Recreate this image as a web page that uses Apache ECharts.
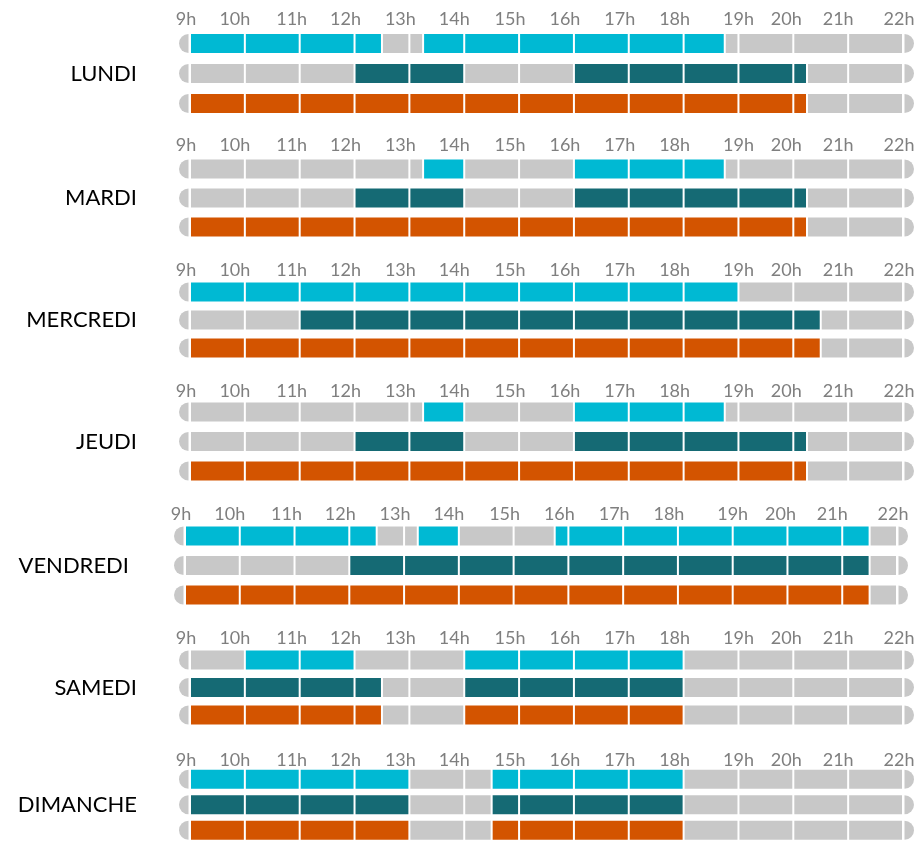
<!DOCTYPE html>
<html>
<head>
<meta charset="utf-8">
<script src="https://cdn.jsdelivr.net/npm/echarts@6/dist/echarts.min.js"></script>
<style>
html, body { margin: 0; padding: 0; background: #fff; }
#chart { width: 920px; height: 843px; }
</style>
</head>
<body>
<div id="chart"></div>
<script>
// jours et plages horaires (heures décimales)
const days = ['LUNDI', 'MARDI', 'MERCREDI', 'JEUDI', 'VENDREDI', 'SAMEDI', 'DIMANCHE'];
const hourLabels = ['9h', '10h', '11h', '12h', '13h', '14h', '15h', '16h', '17h', '18h', '19h', '20h', '21h', '22h'];
const hourMin = 9;
const hourMax = 22;
const rowNames = ['cyan', 'teal', 'orange'];

const cyanSegments = [
    [[9, 12.5], [13.25, 18.75]],
    [[13.25, 14], [16, 18.75]],
    [[9, 19]],
    [[13.25, 14], [16, 18.75]],
    [[9, 12.5], [13.25, 14], [15.75, 21.5]],
    [[10, 12], [14, 18]],
    [[9, 13], [14.5, 18]]
];
const tealSegments = [
    [[12, 14], [16, 20.25]],
    [[12, 14], [16, 20.25]],
    [[11, 20.5]],
    [[12, 14], [16, 20.25]],
    [[12, 21.5]],
    [[9, 12.5], [14, 18]],
    [[9, 13], [14.5, 18]]
];
const orangeSegments = [
    [[9, 20.25]],
    [[9, 20.25]],
    [[9, 20.5]],
    [[9, 20.25]],
    [[9, 21.5]],
    [[9, 12.5], [14, 18]],
    [[9, 13], [14.5, 18]]
];

const rowColors = ['#00B9D3', '#156A74', '#D35400'];
const emptyColor = '#C8C8C8';
const barH = 19;

// mise en page de chaque bloc: centre 1re ligne, pas entre lignes, marges, décalage des heures
const layout = [
    { c: 43.5, s: 30, left: 190, right: 17, lab: 24.5, gap: 53 },
    { c: 169, s: 29, left: 190, right: 17, lab: 24, gap: 53 },
    { c: 292, s: 28, left: 190, right: 17, lab: 22, gap: 53 },
    { c: 412, s: 29.5, left: 190, right: 17, lab: 21, gap: 53 },
    { c: 536, s: 29.5, left: 185, right: 23, lab: 22, gap: 56 },
    { c: 660, s: 27.5, left: 190, right: 17, lab: 22, gap: 53 },
    { c: 780, s: 27, left: 190, right: 17, lab: 20, gap: 53 }
];
const labelShift = [-4, -10, -8, -9, -9, -10, -9, -9, -9, -9, 0, -7, -10, -4];

function pieces(segs, row) {// découpe la ligne aux heures et aux bornes des plages
    let cuts = [];
    for (let h = hourMin; h <= hourMax; h++) cuts.push(h);
    segs.forEach(s => { cuts.push(s[0], s[1]); });
    cuts = Array.from(new Set(cuts)).sort((a, b) => a - b);
    let out = [];
    for (let i = 0; i < cuts.length - 1; i++) {
        let a = cuts[i], b = cuts[i + 1], mid = (a + b) / 2;
        let on = segs.some(s => mid > s[0] && mid < s[1]);
        out.push([a, b, row, on ? 1 : 0]);
    }
    return out;
}

function renderPiece(params, api) {
    let a = api.value(0), b = api.value(1), row = api.value(2), on = api.value(3);
    let p0 = api.coord([a, row]), p1 = api.coord([b, row]);
    let cy = p0[1];
    let children = [{
        type: 'rect',
        shape: { x: p0[0] + 1, y: cy - barH / 2, width: p1[0] - p0[0] - 2, height: barH },
        style: { fill: on ? rowColors[row] : emptyColor }
    }];
    if (a === hourMin) {
        children.push({
            type: 'sector',
            shape: { cx: p0[0] - 1.5, cy: cy, r: barH / 2, r0: 0, startAngle: Math.PI / 2, endAngle: Math.PI * 3 / 2, clockwise: true },
            style: { fill: emptyColor }
        });
    }
    if (b === hourMax) {
        children.push({
            type: 'sector',
            shape: { cx: p1[0] + 1.5, cy: cy, r: barH / 2, r0: 0, startAngle: -Math.PI / 2, endAngle: Math.PI / 2, clockwise: true },
            style: { fill: emptyColor }
        });
    }
    return { type: 'group', children: children };
}

let rich = {};
labelShift.forEach((sh, i) => {
    rich['h' + i] = {
        color: '#7F7F7F', fontFamily: 'Lato', fontSize: 18,
        padding: sh < 0 ? [0, -2 * sh, 0, 0] : [0, 0, 0, 2 * sh]
    };
});

let grids = [], xAxes = [], yAxes = [], series = [];
days.forEach((day, i) => {
    let L = layout[i];
    grids.push({ left: L.left, right: L.right, top: L.c - L.s / 2, height: 3 * L.s });
    xAxes.push({
        gridIndex: i,
        type: 'value',
        min: hourMin,
        max: hourMax,
        interval: 1,
        position: 'top',
        axisLine: { show: false },
        axisTick: { show: false },
        splitLine: { show: false },
        axisLabel: {
            margin: L.lab - L.s / 2 - 9,
            formatter: (v) => {
                let k = Math.round(v - hourMin);
                return '{h' + k + '|' + hourLabels[k] + '}';
            },
            rich: rich
        }
    });
    yAxes.push({
        gridIndex: i,
        type: 'category',
        inverse: true,
        data: rowNames,
        axisLine: { show: false },
        axisTick: { show: false },
        axisLabel: { show: false },
        splitLine: { show: false },
        name: day,
        nameLocation: 'middle',
        nameRotate: 0,
        nameGap: L.gap,
        nameTextStyle: { color: '#000', fontFamily: 'Lato', fontSize: 22, align: 'right', verticalAlign: 'middle' }
    });
    let data = pieces(cyanSegments[i], 0)
        .concat(pieces(tealSegments[i], 1))
        .concat(pieces(orangeSegments[i], 2));
    series.push({
        type: 'custom',
        xAxisIndex: i,
        yAxisIndex: i,
        renderItem: renderPiece,
        encode: { x: [0, 1], y: 2 },
        silent: true,
        data: data
    });
});

let myChart = echarts.init(document.getElementById('chart'));
myChart.setOption({
    animation: false,
    backgroundColor: '#fff',
    grid: grids,
    xAxis: xAxes,
    yAxis: yAxes,
    series: series
});
</script>
</body>
</html>
